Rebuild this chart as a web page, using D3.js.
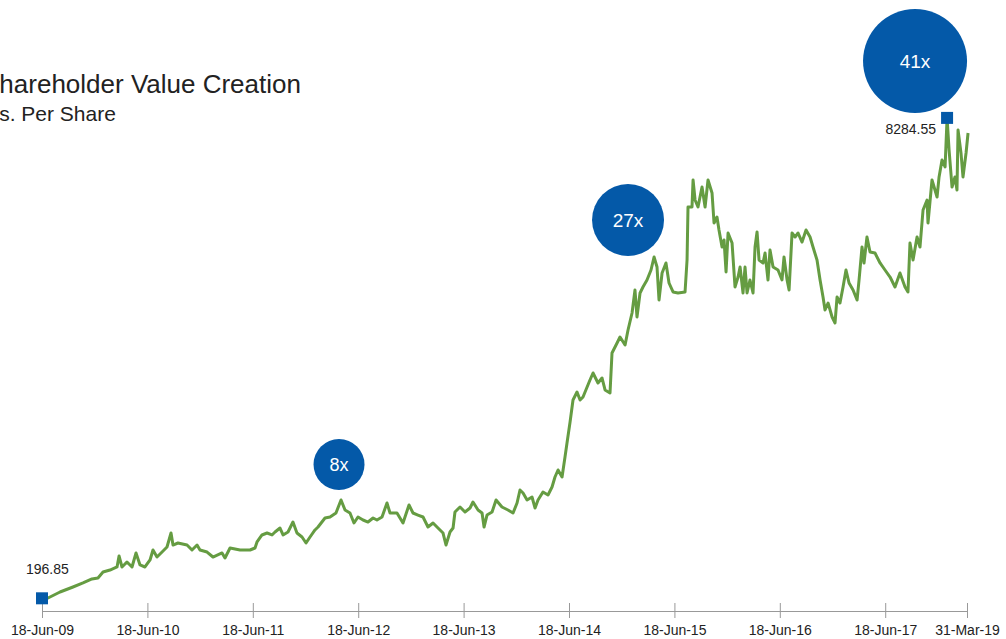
<!DOCTYPE html>
<html>
<head>
<meta charset="utf-8">
<script src="https://cdn.jsdelivr.net/npm/d3@7"></script>
<style>
  body { margin: 0; background: #fff; }
  svg { display: block; font-family: "Liberation Sans", Arial, Helvetica, sans-serif; }
</style>
</head>
<body>
<svg id="chart" width="1006" height="639"></svg>
<script>
// years since 18-Jun-09 (as drawn on the axis)
const years = [0, .057, .171, .294, .389, .474, .531, .579, .645, .712,
  .731, .759, .806, .854, .892, .930, .977, 1.025, 1.053, 1.091,
  1.139, 1.186, 1.224, 1.243, 1.290, 1.376, 1.423, 1.471, 1.499, 1.566,
  1.622, 1.708, 1.736, 1.784, 1.879, 1.974, 2.021, 2.040, 2.087, 2.135,
  2.182, 2.211, 2.258, 2.287, 2.334, 2.381, 2.419, 2.467, 2.505, 2.543,
  2.590, 2.619, 2.685, 2.733, 2.789, 2.837, 2.875, 2.922, 2.960, 2.998,
  3.046, 3.093, 3.141, 3.178, 3.226, 3.273, 3.302, 3.368, 3.425, 3.482,
  3.520, 3.567, 3.615, 3.662, 3.710, 3.757, 3.805, 3.833, 3.871, 3.900,
  3.918, 3.966, 4.013, 4.061, 4.089, 4.137, 4.175, 4.194, 4.222, 4.270,
  4.308, 4.364, 4.421, 4.469, 4.507, 4.535, 4.564, 4.602, 4.649, 4.678,
  4.706, 4.753, 4.801, 4.839, 4.867, 4.896, 4.934, 4.962, 4.981, 5.010,
  5.038, 5.076, 5.105, 5.133, 5.199, 5.228, 5.275, 5.313, 5.342, 5.389,
  5.408, 5.456, 5.484, 5.532, 5.560, 5.598, 5.626, 5.645, 5.674, 5.702,
  5.740, 5.778, 5.807, 5.835, 5.854, 5.883, 5.920, 5.949, 5.987, 6.034,
  6.101, 6.120, 6.129, 6.167, 6.177, 6.196, 6.224, 6.262, 6.291, 6.319,
  6.357, 6.376, 6.404, 6.423, 6.452, 6.471, 6.490, 6.509, 6.547, 6.575,
  6.604, 6.623, 6.651, 6.670, 6.689, 6.717, 6.746, 6.765, 6.784, 6.803,
  6.841, 6.860, 6.888, 6.907, 6.936, 6.983, 7.021, 7.040, 7.069, 7.088,
  7.116, 7.145, 7.173, 7.211, 7.249, 7.287, 7.315, 7.353, 7.382, 7.410,
  7.429, 7.458, 7.496, 7.524, 7.543, 7.571, 7.600, 7.628, 7.657, 7.695,
  7.733, 7.752, 7.780, 7.799, 7.827, 7.856, 7.903, 7.951, 7.998, 8.046,
  8.093, 8.140, 8.188, 8.216, 8.235, 8.264, 8.302, 8.330, 8.359, 8.397,
  8.406, 8.444, 8.492, 8.511, 8.539, 8.568, 8.587, 8.606, 8.634, 8.662,
  8.681, 8.691, 8.719, 8.738, 8.767, 8.786];

// Rs. per share
const price = [196.85, 202, 303, 387, 455, 522, 539, 640, 673, 724,
  909, 724, 808, 724, 960, 758, 724, 842, 1010, 892,
  976, 1061, 1296, 1094, 1128, 1094, 1010, 1094, 1010, 976,
  892, 960, 875, 1044, 1010, 1010, 1044, 1145, 1263, 1296,
  1263, 1313, 1380, 1263, 1313, 1481, 1296, 1229, 1128, 1229,
  1347, 1397, 1549, 1566, 1633, 1852, 1684, 1633, 1465, 1566,
  1515, 1481, 1549, 1515, 1566, 1801, 1633, 1633, 1465, 1768,
  1633, 1599, 1566, 1397, 1465, 1380, 1296, 1094, 1313, 1380,
  1650, 1734, 1650, 1717, 1818, 1684, 1633, 1397, 1599, 1650,
  1852, 1734, 1684, 1633, 1801, 2020, 1970, 1852, 1902, 1717,
  1852, 1987, 1936, 2071, 2239, 2357, 2239, 2576, 2811, 3165,
  3535, 3670, 3535, 3586, 3872, 3990, 3822, 3906, 3704, 3653,
  4327, 4495, 4596, 4461, 4714, 5000, 5387, 4933, 5337, 5438,
  5556, 5724, 5943, 5774, 5219, 5673, 5842, 5505, 5354, 5337,
  5354, 5892, 6785, 6785, 7239, 6902, 6785, 7121, 6785, 7239,
  7020, 6515, 6616, 6397, 6111, 6229, 5690, 6347, 6178, 5438,
  5606, 5774, 5337, 5774, 5337, 5556, 5337, 6111, 6364, 5892,
  5842, 6010, 5556, 6061, 5774, 5724, 5556, 5943, 5556, 5387,
  6347, 6279, 6347, 6195, 6397, 6279, 6111, 5892, 5556, 5269,
  5051, 5168, 4933, 4832, 5269, 5168, 5438, 5724, 5505, 5387,
  5219, 5556, 6111, 5842, 6279, 6027, 6010, 5842, 5724, 5606,
  5438, 5673, 5438, 5354, 6178, 5892, 6279, 6111, 6734, 6902,
  6515, 7239, 6953, 7290, 7576, 7458, 8284.55, 7744, 7121, 7290,
  7071, 8081, 7694, 7290, 7694, 8030];

const tickYears = [0, 1, 2, 3, 4, 5, 6, 7, 8, 8.776];
const tickLabels = ["18-Jun-09", "18-Jun-10", "18-Jun-11", "18-Jun-12", "18-Jun-13",
  "18-Jun-14", "18-Jun-15", "18-Jun-16", "18-Jun-17", "31-Mar-19"];

const multiples = ["8x", "27x", "41x"];
const multipleValue = [8, 27, 41];

const data = years.map((t, i) => ({ t: t, v: price[i] }));

const svg = d3.select("#chart");

const x = d3.scaleLinear().domain([0, 8.776]).range([42, 967]);
const y = d3.scaleLinear().domain([0, 10000]).range([610, 16]);
const r = d3.scaleLinear().domain([8, 27, 41]).range([25.5, 36, 52]);

// title (starts off the left edge like the original)
svg.append("text").attr("x", -18).attr("y", 93)
  .attr("font-size", 26).attr("fill", "#222")
  .text("Shareholder Value Creation");
svg.append("text").attr("x", -16).attr("y", 121)
  .attr("font-size", 21).attr("fill", "#222")
  .text("Rs. Per Share");

// x axis
const xAxis = d3.axisBottom(x)
  .tickValues(tickYears)
  .tickFormat((d, i) => tickLabels[i])
  .tickSize(7)
  .tickSizeOuter(0)
  .tickPadding(7);

const gx = svg.append("g")
  .attr("transform", `translate(0,${611})`)
  .call(xAxis);
gx.select(".domain").attr("stroke", "#999");
gx.selectAll(".tick line").attr("stroke", "#999").attr("y1", -8);
gx.selectAll(".tick text").attr("fill", "#222").attr("font-size", 14)
  .attr("font-family", "Liberation Sans, Arial, sans-serif");

// price line
const line = d3.line().x(d => x(d.t)).y(d => y(d.v));
svg.append("path")
  .datum(data)
  .attr("d", line)
  .attr("fill", "none")
  .attr("stroke", "#659c42")
  .attr("stroke-width", 3)
  .attr("stroke-linejoin", "round");

// start and peak markers
const first = data[0];
const peak = data[d3.maxIndex(data, d => d.v)];

svg.selectAll(".marker")
  .data([first, peak])
  .enter()
  .append("rect")
  .attr("class", "marker")
  .attr("x", d => x(d.t) - 6)
  .attr("y", d => y(d.v) - 6)
  .attr("width", 12)
  .attr("height", 12)
  .attr("fill", "#0459a8");

svg.append("text")
  .attr("x", x(first.t) - 16).attr("y", y(first.v) - 24)
  .attr("font-size", 14).attr("fill", "#222")
  .text(first.v.toFixed(2));
svg.append("text")
  .attr("x", x(peak.t) - 11).attr("y", y(peak.v) + 16)
  .attr("text-anchor", "end")
  .attr("font-size", 14).attr("fill", "#222")
  .text(peak.v.toFixed(2));

// growth bubbles, placed in chart coordinates
const bubblePos = [{ t: 2.818, v: 2449 }, { t: 5.560, v: 6566 }, { t: 8.283, v: 9242 }];
const bubbles = svg.selectAll(".bubble")
  .data(multiples.map((m, i) => ({ label: m, mult: multipleValue[i], t: bubblePos[i].t, v: bubblePos[i].v })))
  .enter()
  .append("g")
  .attr("class", "bubble")
  .attr("transform", d => `translate(${x(d.t)},${y(d.v)})`);

bubbles.append("circle")
  .attr("r", d => r(d.mult))
  .attr("fill", "#0459a8");

bubbles.append("text")
  .attr("text-anchor", "middle")
  .attr("dy", "0.36em")
  .attr("fill", "#fff")
  .attr("font-size", d => d.mult > 10 ? 19 : 18)
  .text(d => d.label);
</script>
</body>
</html>
